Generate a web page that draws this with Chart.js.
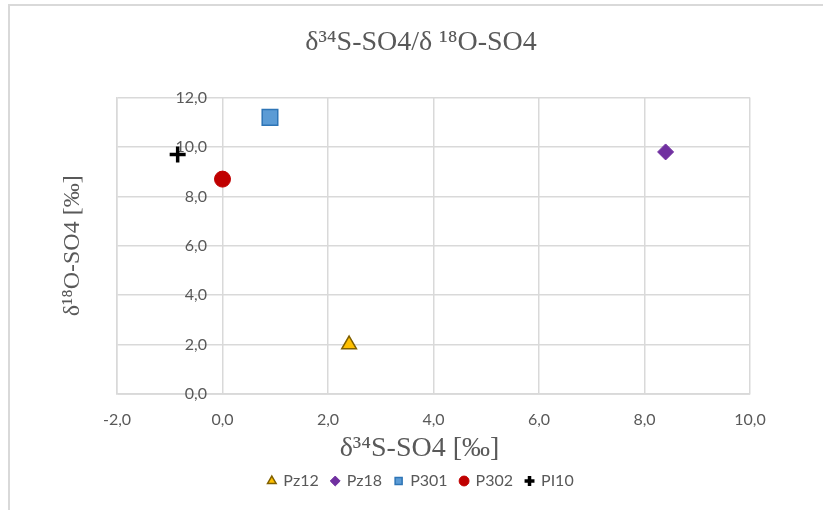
<!DOCTYPE html>
<html>
<head>
<meta charset="utf-8">
<script src="https://cdn.jsdelivr.net/npm/chart.js@4.4.1/dist/chart.umd.min.js"></script>
<style>
  html, body { margin: 0; padding: 0; background: #fff; }
  #frame {
    position: absolute; left: 8px; top: 4px; width: 830px; height: 520px;
    border-top: 2px solid #d9d9d9; border-left: 2px solid #d9d9d9;
  }
  #chart { position: absolute; left: 0; top: 0; }
</style>
</head>
<body>
<div id="frame"></div>
<canvas id="chart" width="823" height="510"></canvas>
<script>
// sample points: δ34S-SO4 (x) and δ18O-SO4 (y), both in ‰
const samples = ['Pz12', 'Pz18', 'P301', 'P302', 'PI10'];
const d34S = [2.4, 8.4, 0.9, 0.0, -0.85];
const d18O = [2.0, 9.8, 11.2, 8.7, 9.7];
const xTicks = [-2, 0, 2, 4, 6, 8, 10];
const yTicks = [0, 2, 4, 6, 8, 10, 12];

const markers = [
    { pointStyle: 'triangle', radius: 8.5, fill: '#ffc000', stroke: '#806000', width: 1.5 },
    { pointStyle: 'rectRot', radius: 8, fill: '#7030a0', stroke: '#7030a0', width: 1 },
    { pointStyle: 'rect', radius: 11, fill: '#5b9bd5', stroke: '#2e75b6', width: 1.5 },
    { pointStyle: 'circle', radius: 8, fill: '#c00000', stroke: '#c00000', width: 1 },
    { pointStyle: 'cross', radius: 8, fill: '#000000', stroke: '#000000', width: 3.5 }
];

const textGray = '#595959';
const gridGray = '#d9d9d9';
const tickFont = { family: 'Lato', size: 16 };
const fmt = v => v.toFixed(1).replace('.', ',');

// y labels sit just left of the x = 0 gridline, inside the plot (Excel crosses the axis at 0)
const plotLeft = 117;
const yLabelRight = 207;
const ctx = document.getElementById('chart').getContext('2d');
ctx.font = tickFont.size + 'px ' + tickFont.family;
const widestY = Math.max(...yTicks.map(v => ctx.measureText(fmt(v)).width));

const datasets = samples.map((name, i) => ({
    label: name,
    data: [{ x: d34S[i], y: d18O[i] }],
    pointStyle: markers[i].pointStyle,
    pointRadius: markers[i].radius,
    pointHoverRadius: markers[i].radius,
    backgroundColor: markers[i].fill,
    borderColor: markers[i].stroke,
    borderWidth: markers[i].width
}));

new Chart(ctx, {
    type: 'scatter',
    data: { datasets },
    options: {
        responsive: false,
        animation: false,
        layout: { padding: { left: 92, right: 73, top: 0, bottom: 11 } },
        plugins: {
            title: {
                display: true,
                text: 'δ³⁴S-SO4/δ ¹⁸O-SO4',
                color: textGray,
                font: { family: 'Liberation Serif', size: 28, weight: 'normal' },
                padding: { top: 26, bottom: 38 }
            },
            legend: {
                position: 'bottom',
                labels: {
                    usePointStyle: true,
                    boxWidth: 7,
                    boxHeight: 7,
                    padding: 13,
                    color: textGray,
                    font: tickFont
                }
            },
            tooltip: { enabled: false }
        },
        scales: {
            x: {
                type: 'linear',
                min: -2,
                max: 10,
                afterBuildTicks: s => { s.ticks = xTicks.map(v => ({ value: v })); },
                afterFit: s => { s.height = 66; },
                grid: { color: gridGray, lineWidth: 1.5, drawTicks: false },
                border: { color: gridGray, width: 1.5 },
                ticks: {
                    padding: 16,
                    color: textGray,
                    font: tickFont,
                    callback: v => fmt(v)
                },
                title: {
                    display: true,
                    text: 'δ³⁴S-SO4 [‰]    ',
                    color: textGray,
                    font: { family: 'Liberation Serif', size: 28 },
                    padding: { top: 0, bottom: -5 }
                }
            },
            y: {
                type: 'linear',
                min: 0,
                max: 12,
                afterBuildTicks: s => { s.ticks = yTicks.map(v => ({ value: v })); },
                afterFit: s => { s.width = 25; },
                grid: {
                    color: c => (c.tick && c.tick.value === 0 ? '#bfbfbf' : gridGray),
                    lineWidth: 1.5,
                    drawTicks: false
                },
                border: { color: gridGray, width: 1.5 },
                ticks: {
                    mirror: true,
                    crossAlign: 'far',
                    padding: yLabelRight - plotLeft - widestY,
                    color: textGray,
                    font: tickFont,
                    callback: v => fmt(v)
                },
                title: {
                    display: true,
                    text: 'δ¹⁸O-SO4 [‰]',
                    color: textGray,
                    font: { family: 'Liberation Serif', size: 24 },
                    padding: { top: -34, bottom: 0 }
                }
            }
        }
    }
});
</script>
</body>
</html>
